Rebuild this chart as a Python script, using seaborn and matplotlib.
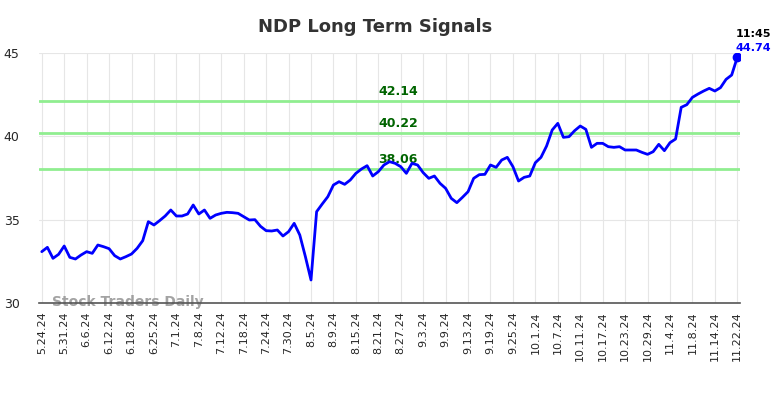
"""NDP long term signals chart."""
import matplotlib
matplotlib.use("Agg")
import matplotlib.pyplot as plt
import pandas as pd
import seaborn as sns

# closing prices, one per trading day
prices = [
    33.08, 33.34, 32.68, 32.92, 33.42, 32.74, 32.64, 32.88, 33.08, 32.98,
    33.48, 33.38, 33.26, 32.84, 32.64, 32.78, 32.94, 33.28, 33.74, 34.88,
    34.68, 34.94, 35.22, 35.58, 35.22, 35.22, 35.34, 35.88, 35.34, 35.58,
    35.08, 35.28, 35.38, 35.44, 35.42, 35.38, 35.18, 34.98, 35.00, 34.60,
    34.34, 34.32, 34.38, 34.02, 34.28, 34.78, 34.08, 32.78, 31.38, 35.48,
    35.94, 36.38, 37.08, 37.28, 37.12, 37.38, 37.78, 38.04, 38.24, 37.62,
    37.88, 38.28, 38.48, 38.38, 38.18, 37.78, 38.38, 38.28, 37.82, 37.48,
    37.62, 37.18, 36.88, 36.28, 36.02, 36.34, 36.68, 37.48, 37.70, 37.72,
    38.28, 38.14, 38.58, 38.74, 38.18, 37.32, 37.54, 37.62, 38.42, 38.74,
    39.42, 40.38, 40.78, 39.94, 39.98, 40.34, 40.62, 40.42, 39.34, 39.58,
    39.58, 39.38, 39.34, 39.38, 39.18, 39.18, 39.18, 39.04, 38.92, 39.08,
    39.52, 39.14, 39.62, 39.84, 41.74, 41.90, 42.34, 42.54, 42.72, 42.88,
    42.72, 42.92, 43.42, 43.68, 44.74,
]

tick_labels = [
    "5.24.24", "5.31.24", "6.6.24", "6.12.24", "6.18.24", "6.25.24", "7.1.24",
    "7.8.24", "7.12.24", "7.18.24", "7.24.24", "7.30.24", "8.5.24", "8.9.24",
    "8.15.24", "8.21.24", "8.27.24", "9.3.24", "9.9.24", "9.13.24", "9.19.24",
    "9.25.24", "10.1.24", "10.7.24", "10.11.24", "10.17.24", "10.23.24",
    "10.29.24", "11.4.24", "11.8.24", "11.14.24", "11.22.24",
]

signals = [42.14, 40.22, 38.06]
last_time = "11:45"


def main():
    df = pd.DataFrame({"day": range(len(prices)), "price": prices})

    sns.set_style("whitegrid", {"grid.color": "#e6e6e6"})
    plt.rcParams["font.family"] = ["DejaVu Sans"]

    fig = plt.figure(figsize=(7.84, 3.98), dpi=100)
    ax = fig.add_axes([0.0497, 0.2387, 0.8943, 0.6281])

    for level in signals:
        ax.axhline(level, color="#90ee90", lw=2, zorder=1)
        ax.text(63.5, level + 0.15, f"{level:.2f}", color="#006400",
                fontsize=9, fontweight="bold", ha="center", va="bottom")

    sns.lineplot(data=df, x="day", y="price", color="#0000ff", lw=2, ax=ax, zorder=3)

    last = len(prices) - 1
    ax.plot(last, prices[-1], "o", color="#0000ff", ms=6, zorder=4)
    ax.annotate(last_time, (last, prices[-1]), xytext=(11.5, 17), textcoords="offset points",
                ha="center", va="center", fontsize=8, fontweight="bold", color="black")
    ax.annotate(f"{prices[-1]:.2f}", (last, prices[-1]), xytext=(11.5, 7), textcoords="offset points",
                ha="center", va="center", fontsize=8, fontweight="bold", color="#0000ff")

    ax.text(1.9, 30.05, "Stock Traders Daily", fontsize=10, fontweight="bold",
            color="#999999", alpha=0.9, va="center", ha="left", zorder=2)

    ax.set_xlim(-0.5, last + 0.5)
    ax.set_ylim(30, 45)
    ax.set_yticks([30, 35, 40, 45])
    ax.set_xticks(list(range(0, len(prices), 4)))
    ax.set_xticklabels(tick_labels, rotation=90, fontsize=8)
    ax.tick_params(axis="y", labelsize=9, length=0, pad=14)
    ax.tick_params(axis="x", length=0, pad=6)
    ax.set_xlabel("")
    ax.set_ylabel("")
    for side in ("left", "right", "top"):
        ax.spines[side].set_visible(False)
    ax.spines["bottom"].set_color("#555555")
    ax.spines["bottom"].set_linewidth(1.2)

    fig.suptitle("NDP Long Term Signals", x=0.478, y=0.955, fontsize=13,
                 fontweight="bold", color="#333333")

    fig.savefig("out.png", dpi=100)
    plt.close(fig)


if __name__ == "__main__":
    main()
